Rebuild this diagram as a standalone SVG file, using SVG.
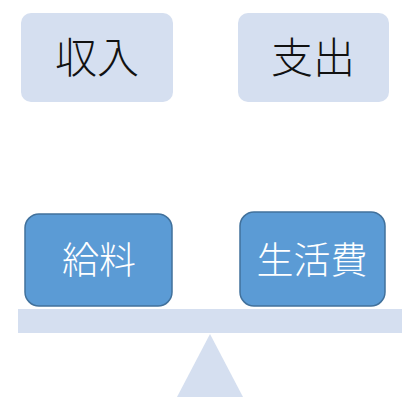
<svg xmlns="http://www.w3.org/2000/svg" width="415" height="412" viewBox="0 0 415 412">
<style>
.light{fill:#d5dff0}
.dark{fill:#5b9bd5;stroke:#41719c;stroke-width:1.5}
text{font-family:"Noto Sans CJK JP","Noto Sans CJK SC",sans-serif;font-weight:300;text-anchor:middle}
.t1{font-size:42px;fill:#111}
.t2{font-size:37px;fill:#fff}
</style>
<rect width="415" height="412" fill="#fff"/>
<g id="income"><rect class="light" x="21" y="13" width="152" height="89" rx="10"/><text class="t1" x="97" y="73">収入</text></g>
<g id="expense"><rect class="light" x="238" y="13" width="151" height="89" rx="10"/><text class="t1" x="313" y="73">支出</text></g>
<g id="salary"><rect class="dark" x="25" y="214" width="147" height="92" rx="14"/><text class="t2" x="99" y="274">給料</text></g>
<g id="living"><rect class="dark" x="240" y="212" width="145" height="94" rx="14"/><text class="t2" x="312" y="274">生活費</text></g>
<g id="scale">
<rect class="light" x="18" y="309" width="384" height="24"/>
<polygon class="light" points="210,334 243,397 177,397"/>
</g>
</svg>
